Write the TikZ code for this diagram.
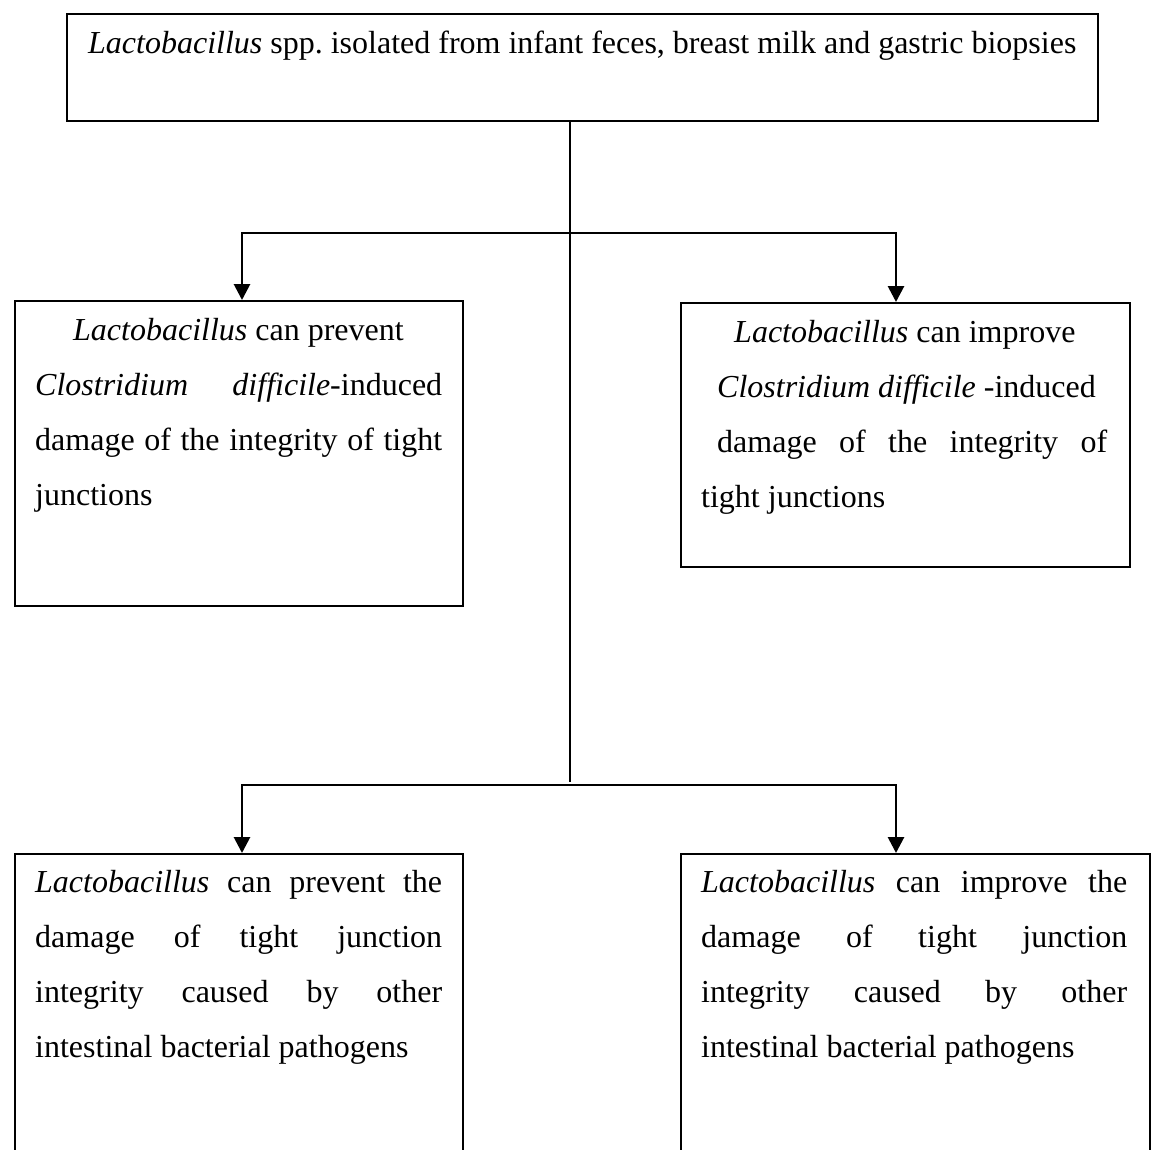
\documentclass[tikz,border=0pt]{standalone}
\usepackage{fontspec}
\setmainfont{Liberation Serif}
\usetikzlibrary{arrows.meta}
\frenchspacing
\begin{document}
\begin{tikzpicture}[x=1pt,y=-1pt,
  box/.style={draw, line width=2.2pt, inner sep=0pt, anchor=north west},
  txt/.style={inner sep=0pt, anchor=base west, font=\fontsize{32}{55}\selectfont},
  conn/.style={line width=2.8pt},
  arr/.style={line width=2.8pt, -{Triangle[width=16pt,length=16pt]}}]
\clip (0,0) rectangle (1154,1149);
\fill[white] (0,0) rectangle (1154,1149);
% boxes
\node[box, minimum width=1031pt, minimum height=107pt] (b0) at (66,13) {};
\node[box, minimum width=448pt, minimum height=305pt] (b1) at (14,300) {};
\node[box, minimum width=449pt, minimum height=264pt] (b2) at (680,302) {};
\node[box, minimum width=448pt, minimum height=420pt] (b3) at (14,853) {};
\node[box, minimum width=469pt, minimum height=420pt] (b4) at (680,853) {};
% texts
\node[txt] (t0) at (88,53) {\textit{Lactobacillus} spp. isolated from infant feces, breast milk and gastric biopsies};
\node[txt] (t1) at (35,340) {\parbox[t]{407pt}{\hspace*{38pt}\textit{Lactobacillus} can prevent\\
\makebox[407pt][s]{\textit{Clostridium} \textit{difficile}-induced}\\
\makebox[407pt][s]{damage of the integrity of tight}\\
junctions}};
\node[txt] (t2) at (701,342) {\parbox[t]{426pt}{\hspace*{33pt}\textit{Lactobacillus} can improve\\
\hspace*{16pt}\textit{Clostridium difficile} -induced\\
\hspace*{16pt}\makebox[390pt][s]{damage of the integrity of}\\
tight junctions}};
\node[txt] (t3) at (35,892) {\parbox[t]{407pt}{\makebox[407pt][s]{\textit{Lactobacillus} can prevent the}\\
\makebox[407pt][s]{damage of tight junction}\\
\makebox[407pt][s]{integrity caused by other}\\
intestinal bacterial pathogens}};
\node[txt] (t4) at (701,892) {\parbox[t]{426pt}{\makebox[426pt][s]{\textit{Lactobacillus} can improve the}\\
\makebox[426pt][s]{damage of tight junction}\\
\makebox[426pt][s]{integrity caused by other}\\
intestinal bacterial pathogens}};
% connectors
\coordinate (j1) at (570,233);
\coordinate (l1) at (242,233);
\coordinate (r1) at (896,233);
\coordinate (te) at (570,782);
\coordinate (j2) at (570,785);
\coordinate (l2) at (242,785);
\coordinate (r2) at (896,785);
\draw[conn] (b0.south -| j1) -- (te);
\draw[arr] (j1) -- (l1) -- (l1 |- b1.north);
\draw[arr] (j1) -- (r1) -- (r1 |- b2.north);
\draw[arr] (j2) -- (l2) -- (l2 |- b3.north);
\draw[arr] (j2) -- (r2) -- (r2 |- b4.north);
\end{tikzpicture}
\end{document}
